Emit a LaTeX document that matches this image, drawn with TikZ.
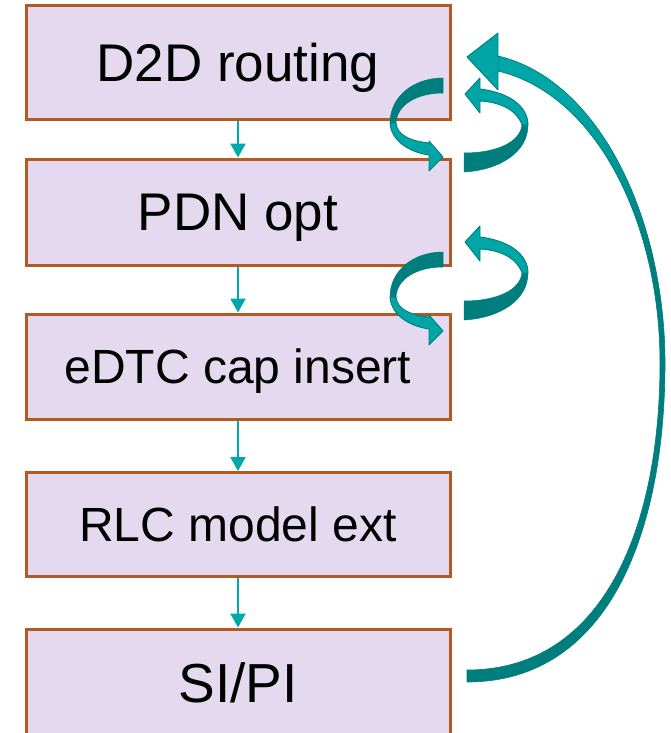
\documentclass[tikz,border=0pt]{standalone}
\usepackage{fontspec}
\setmainfont{Liberation Sans}
\usetikzlibrary{arrows.meta}

\definecolor{boxfill}{HTML}{E4D9EE}
\definecolor{boxline}{HTML}{B35A22}
\definecolor{tealA}{HTML}{00A6A6}
\definecolor{tealB}{HTML}{007E7E}
\definecolor{flow}{HTML}{00A9A9}

% local iteration loops (drawn in pixel-like units, y downwards)
\newcommand\loopleft[1]{%
  \begin{scope}[shift={(0,#1)}]
    \filldraw[fill=tealB, draw=tealB, line width=0.5pt]
      (443,78) .. controls (413,78) and (390,97) .. (390,123)
      -- (396,123) .. controls (397,104) and (418,93) .. (443,93) -- cycle;
    \filldraw[fill=tealA, ribbonedge]
      (390,123) .. controls (391,140) and (408,152) .. (429,155)
      -- (429,171) -- (443,157) -- (429,141) -- (429,143)
      .. controls (410,141) and (397,135) .. (396,123) -- cycle;
  \end{scope}}
\newcommand\loopright[1]{%
  \begin{scope}[shift={(0,#1)}]
    \filldraw[fill=tealB, draw=tealB, line width=0.5pt]
      (464,172) .. controls (500,170) and (528,152) .. (528,125)
      -- (522,125) .. controls (520,143) and (495,153) .. (464,153) -- cycle;
    \filldraw[fill=tealA, ribbonedge]
      (528,125) .. controls (528,108) and (512,93) .. (480,89)
      -- (480,78) -- (465,94) -- (480,113) -- (480,101)
      .. controls (500,102) and (517,110) .. (522,125) -- cycle;
  \end{scope}}

\begin{document}
\begin{tikzpicture}[x=1pt,y=-1pt,
  stage/.style args={#1/#2}{draw=boxline, line width=3pt, fill=boxfill,
    minimum width=424pt, minimum height=#2pt, inner sep=0pt,
    font=\fontsize{#1}{#1}\selectfont, text height=0.716*#1pt, text depth=0pt},
  flowarrow/.style={draw=flow, line width=2.4pt,
    -{Triangle[width=15pt,length=14pt]}},
  ribbonedge/.style={draw=tealB, line width=0.9pt, line join=round}]

\useasboundingbox (0,0) rectangle (671,733);

% process stages
\node[stage=53/114] (b1) at (238,63)    {D2D routing};
\node[stage=53/106] (b2) at (238,212)   {PDN opt};
\node[stage=48/105] (b3) at (238,366.5) {eDTC cap insert};
\node[stage=48/104] (b4) at (238,524.5) {RLC model ext};
\node[stage=55/108] (b5) at (238,683)   {SI/PI};

% straight flow between stages
\draw[flowarrow] (b1.south) -- (b2.north);
\draw[flowarrow] (b2.south) -- (b3.north);
\draw[flowarrow] (b3.south) -- (b4.north);
\draw[flowarrow] (b4.south) -- (b5.north);

% long feedback ribbon from SI/PI back to D2D routing
\def\bigband{(498,56) .. controls (600,80) and (665,220) .. (665,363)
  .. controls (665,530) and (610,682) .. (467,682) -- (467,670)
  .. controls (605,670) and (660,525) .. (660,363)
  .. controls (660,225) and (598,95) .. (498,71) -- cycle}
\fill[tealB] \bigband;
\begin{scope}
  \clip \bigband;
  \fill[tealA] (450,20) rectangle (680,95);
  \shade[top color=tealA, bottom color=tealB] (450,95) rectangle (680,260);
\end{scope}
\draw[ribbonedge, line width=0.6pt] \bigband;
\filldraw[fill=tealA, ribbonedge] (498,58) -- (498,33) -- (467,57) -- (498,90) -- (498,69);

\loopleft{0}
\loopright{0}
\loopleft{174}
\loopright{148}

\end{tikzpicture}
\end{document}
